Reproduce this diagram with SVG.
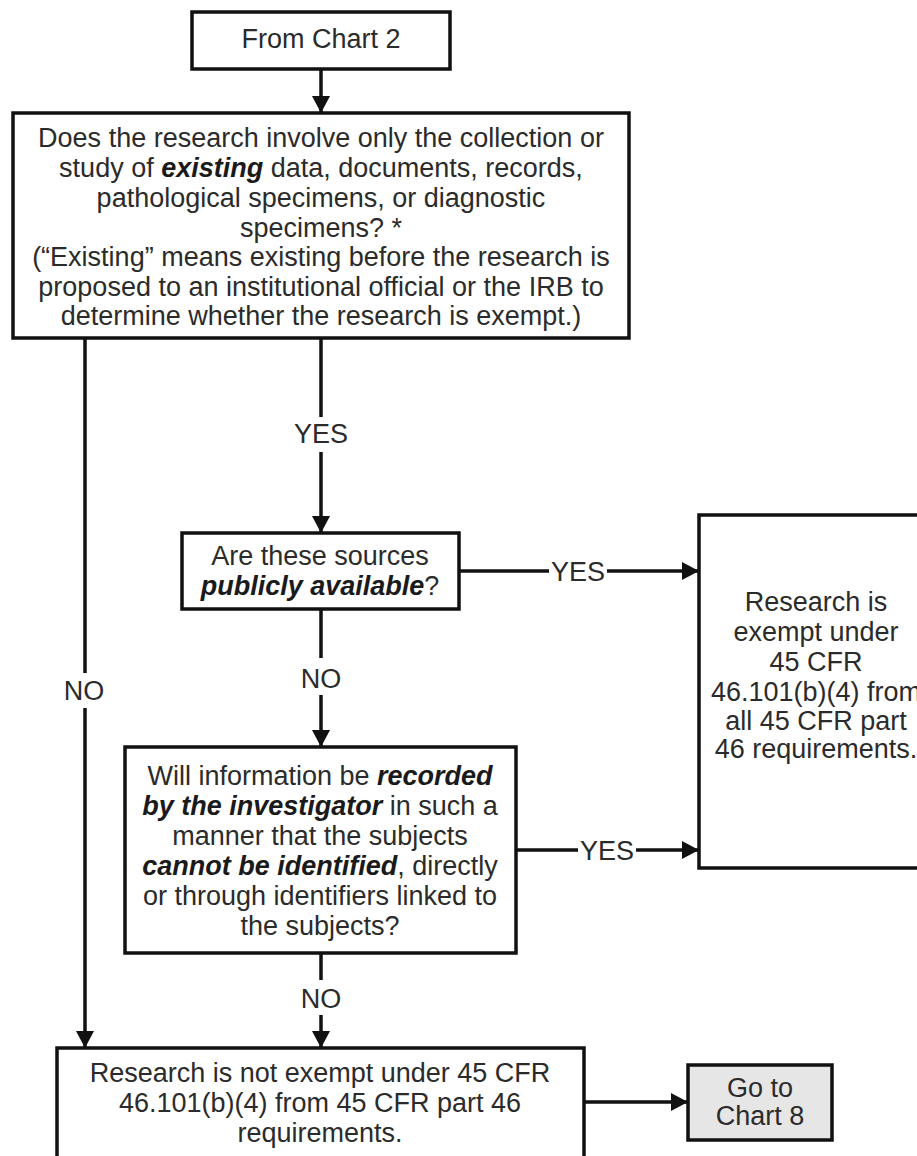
<svg xmlns="http://www.w3.org/2000/svg" width="917" height="1156" viewBox="0 0 917 1156">
<style>
  .box { fill: #ffffff; stroke: #111111; stroke-width: 3.5; }
  .grey { fill: #e6e6e6; }
  .conn { stroke: #111111; stroke-width: 3.5; fill: none; }
  text { font-family: "Liberation Sans", Arial, sans-serif; font-size: 27px; fill: #2b2b2b; text-anchor: middle; }
  .bi { font-weight: bold; font-style: italic; fill: #1a1a1a; }
</style>
<defs>
  <marker id="arr" markerUnits="userSpaceOnUse" markerWidth="17" markerHeight="18" refX="17" refY="9" orient="auto">
    <path d="M0,0 L17,9 L0,18 Z" fill="#111111"/>
  </marker>
</defs>
<rect width="917" height="1156" fill="#ffffff"/>

<g id="connectors">
  <line class="conn" x1="321" y1="69" x2="321" y2="113" marker-end="url(#arr)"/>
  <line class="conn" x1="321" y1="338" x2="321" y2="417"/>
  <line class="conn" x1="321" y1="452" x2="321" y2="533" marker-end="url(#arr)"/>
  <text x="321" y="443">YES</text>
  <line class="conn" x1="85" y1="338" x2="85" y2="673"/>
  <line class="conn" x1="85" y1="708" x2="85" y2="1048" marker-end="url(#arr)"/>
  <text x="84" y="700">NO</text>
  <line class="conn" x1="459" y1="571" x2="549" y2="571"/>
  <line class="conn" x1="607" y1="571" x2="699" y2="571" marker-end="url(#arr)"/>
  <text x="578" y="581">YES</text>
  <line class="conn" x1="321" y1="609" x2="321" y2="658"/>
  <line class="conn" x1="321" y1="695" x2="321" y2="747" marker-end="url(#arr)"/>
  <text x="321" y="688">NO</text>
  <line class="conn" x1="516" y1="850" x2="578" y2="850"/>
  <line class="conn" x1="636" y1="850" x2="699" y2="850" marker-end="url(#arr)"/>
  <text x="607" y="860">YES</text>
  <line class="conn" x1="321" y1="953" x2="321" y2="980"/>
  <line class="conn" x1="321" y1="1015" x2="321" y2="1048" marker-end="url(#arr)"/>
  <text x="321" y="1008">NO</text>
  <line class="conn" x1="584" y1="1102" x2="688" y2="1102" marker-end="url(#arr)"/>
</g>

<g id="from-chart-2">
  <rect class="box" x="192" y="12" width="258" height="57"/>
  <text x="321" y="48">From Chart 2</text>
</g>

<g id="existing-question">
  <rect class="box" x="13" y="113" width="616" height="225"/>
  <text x="321" y="147">Does the research involve only the collection or</text>
  <text x="321" y="177">study of <tspan class="bi">existing</tspan> data, documents, records,</text>
  <text x="321" y="207">pathological specimens, or diagnostic</text>
  <text x="321" y="237">specimens? *</text>
  <text x="321" y="266">(“Existing” means existing before the research is</text>
  <text x="321" y="296">proposed to an institutional official or the IRB to</text>
  <text x="321" y="325">determine whether the research is exempt.)</text>
</g>

<g id="publicly-available">
  <rect class="box" x="182" y="533" width="277" height="76"/>
  <text x="320" y="565">Are these sources</text>
  <text x="320" y="595"><tspan class="bi">publicly available</tspan>?</text>
</g>

<g id="recorded-question">
  <rect class="box" x="125" y="747" width="391" height="206"/>
  <text x="320" y="785">Will information be <tspan class="bi">recorded</tspan></text>
  <text x="320" y="815"><tspan class="bi">by the investigator</tspan> in such a</text>
  <text x="320" y="845">manner that the subjects</text>
  <text x="320" y="875"><tspan class="bi">cannot be identified</tspan>, directly</text>
  <text x="320" y="905">or through identifiers linked to</text>
  <text x="320" y="935">the subjects?</text>
</g>

<g id="exempt">
  <rect class="box" x="699" y="515" width="240" height="353"/>
  <text x="816" y="611">Research is</text>
  <text x="816" y="641">exempt under</text>
  <text x="816" y="671">45 CFR</text>
  <text x="816" y="701">46.101(b)(4) from</text>
  <text x="816" y="730">all 45 CFR part</text>
  <text x="816" y="758">46 requirements.</text>
</g>

<g id="not-exempt">
  <rect class="box" x="57" y="1048" width="527" height="130"/>
  <text x="320" y="1082">Research is not exempt under 45 CFR</text>
  <text x="320" y="1112">46.101(b)(4) from 45 CFR part 46</text>
  <text x="320" y="1142">requirements.</text>
</g>

<g id="go-to-chart-8">
  <rect class="box grey" x="688" y="1065" width="144" height="75"/>
  <text x="760" y="1097">Go to</text>
  <text x="760" y="1125">Chart 8</text>
</g>
</svg>
